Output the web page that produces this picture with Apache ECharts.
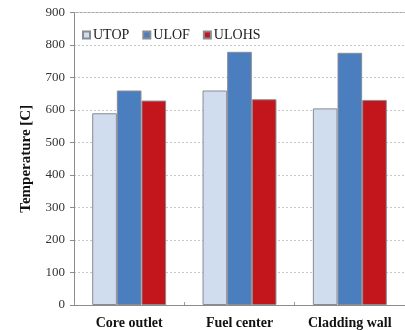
<!DOCTYPE html>
<html>
<head>
<meta charset="utf-8">
<script src="https://cdn.jsdelivr.net/npm/echarts@6/dist/echarts.min.js"></script>
<style>
  html, body { margin: 0; padding: 0; background: #fff; }
  #chart { width: 405px; height: 330px; }
</style>
</head>
<body>
<div id="chart"></div>
<script>
// Peak temperatures per location for each transient scenario
const categories = ['Core outlet', 'Fuel center', 'Cladding wall'];
const utop = [590, 660, 605];
const ulof = [660, 779, 776];
const ulohs = [629, 633, 631];
const yTicks = { min: 0, max: 900, interval: 100 };

const serif = '"Liberation Serif", "DejaVu Serif", serif';
const border = { borderColor: '#878c94', borderWidth: 1 };

const chart = echarts.init(document.getElementById('chart'));
chart.setOption({
  animation: false,
  backgroundColor: '#fff',
  textStyle: { fontFamily: serif },
  grid: { left: 74, top: 12.5, width: 334, bottom: 25 },
  legend: {
    left: 82, top: 28, padding: 0,
    itemWidth: 7, itemHeight: 7, itemGap: 13,
    icon: 'rect',
    textStyle: { fontFamily: serif, fontSize: 14, color: '#222', padding: [0, 0, 0, -2] },
    data: ['UTOP', 'ULOF', 'ULOHS']
  },
  xAxis: {
    type: 'category',
    data: categories,
    axisLine: { lineStyle: { color: '#8c8c8c', width: 1 } },
    axisTick: { show: true, length: 3, inside: true, lineStyle: { color: '#9a9a9a' } },
    axisLabel: { fontFamily: serif, fontWeight: 'bold', fontSize: 14, color: '#111', margin: 11 }
  },
  yAxis: {
    type: 'value',
    min: yTicks.min, max: yTicks.max, interval: yTicks.interval,
    name: 'Temperature [C]',
    nameLocation: 'middle',
    nameGap: 40,
    nameTextStyle: { fontFamily: serif, fontWeight: 'bold', fontSize: 15, color: '#111' },
    axisLine: { show: true, lineStyle: { color: '#8c8c8c', width: 1 } },
    axisTick: { show: true, length: 4, lineStyle: { color: '#8c8c8c' } },
    axisLabel: { fontFamily: serif, fontSize: 13, color: '#333', margin: 9 },
    splitLine: { lineStyle: { color: '#c8c8c8', type: [2, 2], width: 1 } }
  },
  series: [
    { name: 'UTOP', type: 'bar', data: utop, barGap: '0%', barCategoryGap: '33%',
      itemStyle: Object.assign({ color: '#d0ddee' }, border) },
    { name: 'ULOF', type: 'bar', data: ulof,
      itemStyle: Object.assign({ color: '#4b7ebe' }, border) },
    { name: 'ULOHS', type: 'bar', data: ulohs,
      itemStyle: Object.assign({ color: '#c3151c' }, border) }
  ],
  graphic: [
    { type: 'line', shape: { x1: 74, y1: 12.5, x2: 405, y2: 12.5 },
      style: { stroke: '#a8a8a8', lineWidth: 1 }, silent: true }
  ]
});
</script>
</body>
</html>
